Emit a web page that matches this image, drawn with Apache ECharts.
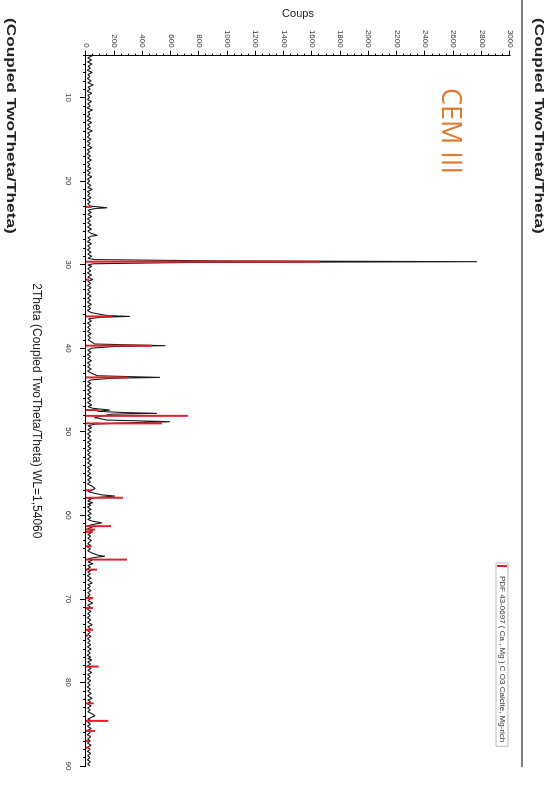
<!DOCTYPE html>
<html><head><meta charset="utf-8">
<script src="https://cdn.jsdelivr.net/npm/echarts@6/dist/echarts.min.js"></script>
<style>
html,body{margin:0;padding:0;width:555px;height:787px;overflow:hidden;background:#fff;}
#chart{position:absolute;left:0;top:0;width:787px;height:555px;transform-origin:0 0;transform:translateX(555px) rotate(90deg);}
</style></head><body>
<div id="chart"></div>
<script>
// Measured pattern [2Theta, counts]
const measured = [
[5.0,45],[5.25,12],[5.5,38],[5.75,10],[6.0,42],[6.25,15],[6.5,30],[6.75,8],[7.0,44],[7.25,14],[7.5,28],[7.75,10],
[8.0,36],[8.25,12],[8.5,52],[8.75,14],[9.0,30],[9.25,9],[9.5,40],[9.75,13],[10.0,26],[10.25,10],[10.5,38],[10.75,12],
[11.0,30],[11.25,8],[11.5,46],[11.75,14],[12.0,28],[12.25,10],[12.5,34],[12.75,9],[13.0,40],[13.25,12],[13.5,30],[13.75,8],
[14.0,44],[14.25,12],[14.5,26],[14.75,10],[15.0,36],[15.25,9],[15.5,30],[15.75,12],[16.0,42],[16.25,10],[16.5,26],[16.75,8],
[17.0,32],[17.25,12],[17.5,38],[17.75,9],[18.0,28],[18.25,11],[18.5,36],[18.75,8],[19.0,30],[19.25,12],[19.5,40],[19.75,10],
[20.0,26],[20.25,9],[20.5,34],[20.75,12],[21.0,44],[21.25,10],[21.5,28],[21.75,12],[22.0,36],[22.25,9],[22.5,30],[22.75,12],
[23.0,34],[23.1,90],[23.2,150],[23.3,60],[23.5,14],[23.75,36],[24.0,12],[24.25,40],[24.5,10],[24.75,30],[25.0,12],[25.25,36],
[25.5,10],[25.75,38],[26.0,12],[26.25,34],[26.4,20],[26.5,80],[26.6,35],[26.8,12],[27.0,32],[27.25,10],[27.5,38],[27.75,12],
[28.0,30],[28.25,10],[28.5,36],[28.75,12],[29.0,40],[29.25,14],[29.4,60],[29.55,900],[29.65,2767],[29.75,700],[29.9,50],[30.05,14],
[30.2,40],[30.5,12],[30.75,34],[31.0,10],[31.25,38],[31.5,12],[31.8,48],[32.0,12],[32.25,34],[32.5,10],[32.75,36],[33.0,12],
[33.25,30],[33.5,9],[33.75,36],[34.0,12],[34.25,32],[34.5,10],[34.75,38],[35.0,12],[35.25,34],[35.5,10],[35.75,38],[35.9,35],
[36.1,150],[36.2,311],[36.3,100],[36.5,18],[36.75,38],[37.0,10],[37.25,34],[37.5,12],[37.75,30],[38.0,10],[38.25,36],[38.5,12],
[38.75,32],[39.0,14],[39.25,40],[39.5,60],[39.6,300],[39.7,560],[39.8,200],[40.0,40],[40.25,12],[40.5,36],[40.75,10],[41.0,32],
[41.25,12],[41.5,38],[41.75,10],[42.0,30],[42.25,12],[42.5,36],[42.75,10],[43.0,40],[43.3,80],[43.4,300],[43.5,524],[43.6,180],
[43.8,35],[44.0,12],[44.2,34],[44.5,10],[44.8,38],[45.0,12],[45.3,32],[45.5,10],[45.8,36],[46.0,12],[46.3,34],[46.5,10],
[46.8,40],[47.0,14],[47.2,50],[47.4,170],[47.55,80],[47.7,260],[47.8,502],[47.9,180],[48.1,120],[48.3,60],[48.6,150],[48.8,594],
[48.95,250],[49.1,60],[49.3,14],[49.5,40],[49.75,12],[50.0,36],[50.25,10],[50.5,32],[50.75,12],[51.0,38],[51.25,10],[51.5,34],
[51.75,12],[52.0,36],[52.25,9],[52.5,30],[52.75,12],[53.0,36],[53.25,10],[53.5,32],[53.75,12],[54.0,40],[54.25,10],[54.5,30],
[54.75,12],[55.0,34],[55.25,10],[55.5,38],[55.75,12],[56.0,32],[56.25,10],[56.5,42],[56.8,64],[57.0,40],[57.15,14],[57.3,45],
[57.55,110],[57.7,205],[57.85,90],[58.0,14],[58.1,35],[58.3,12],[58.5,48],[58.65,12],[58.8,34],[59.0,10],[59.3,36],[59.5,12],
[59.8,38],[60.0,12],[60.3,34],[60.5,12],[60.7,45],[60.9,113],[61.1,50],[61.25,14],[61.4,45],[61.6,12],[61.8,46],[61.95,14],
[62.1,38],[62.3,12],[62.5,34],[62.75,12],[63.0,38],[63.2,48],[63.4,12],[63.6,34],[63.8,10],[64.0,32],[64.25,12],[64.5,40],
[64.8,90],[64.9,134],[65.05,60],[65.2,14],[65.4,40],[65.6,14],[65.8,50],[66.0,12],[66.2,32],[66.4,10],[66.6,38],[66.8,12],
[67.0,30],[67.25,10],[67.5,36],[67.75,12],[68.1,44],[68.3,12],[68.5,32],[68.75,10],[69.0,36],[69.25,12],[69.5,30],[69.7,12],
[69.9,38],[70.2,14],[70.5,48],[70.75,12],[71.0,32],[71.25,10],[71.5,36],[71.75,12],[72.0,30],[72.25,10],[72.5,34],[72.8,12],
[73.1,44],[73.35,12],[73.6,34],[73.8,10],[74.0,30],[74.25,12],[74.5,36],[74.75,10],[75.0,30],[75.25,12],[75.5,34],[75.75,10],
[76.0,36],[76.25,12],[76.5,30],[76.75,10],[77.0,34],[77.15,12],[77.3,42],[77.55,12],[77.8,32],[78.05,10],[78.3,36],[78.55,12],
[78.8,40],[79.05,12],[79.3,30],[79.55,10],[79.8,34],[80.05,12],[80.3,30],[80.55,10],[80.8,32],[81.05,12],[81.3,36],[81.6,12],
[81.9,44],[82.1,12],[82.3,32],[82.55,10],[82.8,36],[83.05,12],[83.3,30],[83.5,12],[83.7,38],[84.0,64],[84.2,35],[84.4,12],
[84.6,40],[84.8,12],[85.0,32],[85.25,10],[85.5,36],[85.75,12],[86.0,30],[86.25,10],[86.5,34],[86.75,12],[87.0,30],[87.25,10],
[87.5,36],[87.75,12],[88.0,30],[88.25,10],[88.5,34],[88.75,12],[89.0,28],[89.25,10],[89.5,32],[89.75,12],[90.0,28]
];
// Reference sticks PDF 43-0697 [2Theta, intensity]
const pdfSticks = [
[23.1,40],[29.65,1656],[31.8,20],[36.2,190],[39.7,467],[43.5,290],[47.4,90],[48.1,722],[49.0,538],
[57.0,45],[57.9,262],[61.3,177],[61.7,64],[62.0,48],[63.7,40],[65.3,290],[66.5,78],[69.9,50],[71.1,50],
[73.7,50],[74.4,15],[78.1,90],[82.5,55],[84.6,158],[85.8,64],[87.0,20],[87.8,20]
];
const majorTicks2T = [10,20,30,40,50,60,70,80,90];
const legendName = 'PDF 43-0697 ( Ca , Mg ) C O3 Calcite, Mg-rich';

const chart = echarts.init(document.getElementById('chart'));
const txt = '#222';
const ff = 'Liberation Sans, Arial, sans-serif';
chart.setOption({
  animation:false,
  textStyle:{fontFamily:ff},
  grid:{left:42,right:21,top:45,bottom:86},
  legend:{
    data:[legendName], left:563, top:47, orient:'horizontal',
    icon:'rect', itemWidth:2, itemHeight:10, itemGap:4,
    borderColor:'#bbb', borderWidth:1, padding:[1,4,1,2],
    textStyle:{fontSize:8,color:'#333',padding:[0,0,0,4]}
  },
  xAxis:[
    {type:'value',min:5,max:90,interval:1,
     axisLine:{lineStyle:{color:'#000',width:1}},
     axisTick:{length:3,lineStyle:{color:'#000'}},
     axisLabel:{show:false}, splitLine:{show:false},
     name:'2Theta (Coupled TwoTheta/Theta) WL=1,54060', nameLocation:'middle', nameGap:44,
     nameTextStyle:{fontSize:12,color:txt}},
    {type:'value',min:5,max:90,position:'bottom',
     axisLine:{show:false},
     axisTick:{show:true,length:6,customValues:majorTicks2T,lineStyle:{color:'#000'}},
     axisLabel:{fontSize:8,color:'#333',margin:14,customValues:majorTicks2T},
     splitLine:{show:false}}
  ],
  yAxis:{type:'value',min:0,max:3000,interval:200,
    axisLine:{show:true,lineStyle:{color:'#000',width:1}},
    axisTick:{show:true,length:5,lineStyle:{color:'#000'}},
    minorTick:{show:true,splitNumber:4,length:2,lineStyle:{color:'#000'}},
    axisLabel:{fontSize:8,color:'#333',margin:8,formatter:function(v){return String(v);}},
    splitLine:{show:false},
    name:'Coups', nameLocation:'middle', nameRotate:90, nameGap:30,
    nameTextStyle:{fontSize:11,color:txt}},
  series:[
    {type:'line', name:'measured', data:measured, xAxisIndex:0, symbol:'none',
     lineStyle:{color:'#1a1a1a',width:1.1}, z:2},
    {type:'bar', name:legendName, data:pdfSticks, xAxisIndex:0, barWidth:2,
     itemStyle:{color:'#e3202a'}, z:3}
  ],
  graphic:[
    {type:'line', shape:{x1:0,y1:33,x2:767,y2:33}, style:{stroke:'#555',lineWidth:1.5}},
    {type:'text', x:18, y:10, scaleX:1.33, style:{text:'(Coupled TwoTheta/Theta)', fontSize:13, fontWeight:'bold', fill:'#222', fontFamily:ff}},
    {type:'text', x:18, y:538, scaleX:1.33, style:{text:'(Coupled TwoTheta/Theta)', fontSize:13, fontWeight:'bold', fill:'#222', fontFamily:ff}},
    {type:'text', x:88, y:92, style:{text:'CEM III', fontSize:27, fill:'#e07a2e', fontFamily:'Open Sans, sans-serif'}}
  ]
});
</script></body></html>
